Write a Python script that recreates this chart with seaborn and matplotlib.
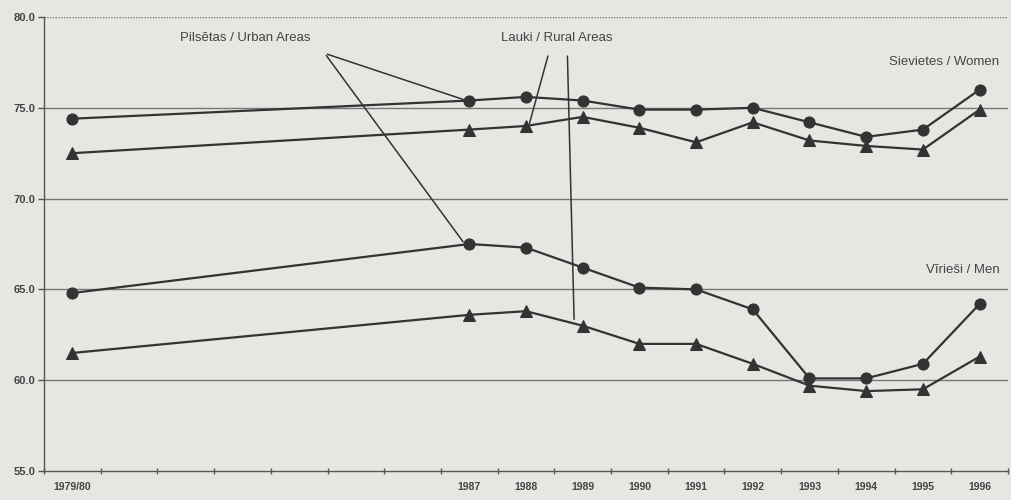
import numpy as np
import pandas as pd
import matplotlib
matplotlib.use('Agg')
import matplotlib.pyplot as plt
import seaborn as sns

sns.set_style('white')
plt.rcParams['font.family'] = ['Liberation Sans', 'DejaVu Sans']

# category axis: 1979/80, six empty slots, then 1987..1996
categories = ['1979/80', '', '', '', '', '', '', '1987', '1988', '1989', '1990',
              '1991', '1992', '1993', '1994', '1995', '1996']
years = ['1979/80', '1987', '1988', '1989', '1990', '1991', '1992', '1993', '1994', '1995', '1996']

women_urban = [74.4, 75.4, 75.6, 75.4, 74.9, 74.9, 75.0, 74.2, 73.4, 73.8, 76.0]
women_rural = [72.5, 73.8, 74.0, 74.5, 73.9, 73.1, 74.2, 73.2, 72.9, 72.7, 74.9]
men_urban = [64.8, 67.5, 67.3, 66.2, 65.1, 65.0, 63.9, 60.1, 60.1, 60.9, 64.2]
men_rural = [61.5, 63.6, 63.8, 63.0, 62.0, 62.0, 60.9, 59.7, 59.4, 59.5, 61.3]

series = {
    ('women', 'urban'): women_urban,
    ('women', 'rural'): women_rural,
    ('men', 'urban'): men_urban,
    ('men', 'rural'): men_rural,
}

rows = []
for (sex, area), vals in series.items():
    for y, v in zip(years, vals):
        rows.append({'sex': sex, 'area': area, 'year': y,
                     'pos': categories.index(y), 'value': v})
df = pd.DataFrame(rows)

bg = '#e6e6e3'
ink = '#333333'

fig = plt.figure(figsize=(10.11, 5.0), dpi=100, facecolor=bg)
ax = fig.add_axes([0.0435, 0.058, 0.9535, 0.908])
ax.set_facecolor(bg)

markers = {'urban': 'o', 'rural': '^'}
for (sex, area), g in df.groupby(['sex', 'area']):
    sns.lineplot(data=g, x='pos', y='value', ax=ax, color=ink, lw=1.6,
                 marker=markers[area], markersize=8 if area == 'urban' else 8.5,
                 markeredgecolor=ink, estimator=None, legend=False)

ax.set_xlim(-0.5, len(categories) - 0.5)
ax.set_ylim(55, 80)
ax.set_yticks([55, 60, 65, 70, 75, 80])
ax.set_yticklabels(['%.1f' % t for t in [55, 60, 65, 70, 75, 80]],
                   fontsize=8, fontweight='bold', color='#444444')
ax.set_xticks(range(len(categories)))
ax.set_xticklabels(categories, fontsize=7.5, fontweight='bold', color='#444444')
ax.set_xticks(np.arange(-0.5, len(categories), 1.0), minor=True)
ax.tick_params(axis='x', which='major', bottom=True, length=0, pad=8)
ax.tick_params(axis='x', which='minor', bottom=True, length=5, width=1,
               color='#555555', direction='inout')
ax.tick_params(axis='y', which='major', left=True, length=4, width=1,
               color='#555555', pad=2)
ax.set_xlabel('')
ax.set_ylabel('')

for t in [60, 65, 70, 75]:
    ax.axhline(t, color='#777777', lw=1.0, zorder=0)
ax.axhline(80, color='#777777', lw=1.0, ls=(0, (1, 1)), zorder=0)

for s in ['top', 'right']:
    ax.spines[s].set_visible(False)
for s in ['left', 'bottom']:
    ax.spines[s].set_color('#555555')
    ax.spines[s].set_linewidth(1.0)

# annotation pointers
p87 = categories.index('1987')
p88 = categories.index('1988')
p89 = categories.index('1989')
ax.text(3.05, 78.7, 'Pilsētas / Urban Areas', fontsize=9.5, color='#444444', ha='center')
ax.annotate('', xy=(p87 - 0.05, women_urban[1]), xytext=(4.45, 78.0),
            arrowprops=dict(arrowstyle='-', color=ink, lw=1.1))
ax.annotate('', xy=(p87 - 0.08, men_urban[1]), xytext=(4.45, 78.0),
            arrowprops=dict(arrowstyle='-', color=ink, lw=1.1))
ax.text(8.55, 78.7, 'Lauki / Rural Areas', fontsize=9.5, color='#444444', ha='center')
ax.annotate('', xy=(p88 + 0.05, women_rural[2]), xytext=(8.4, 78.0),
            arrowprops=dict(arrowstyle='-', color=ink, lw=1.1))
ax.annotate('', xy=(p89 - 0.15, men_rural[3] + 0.2), xytext=(8.73, 78.0),
            arrowprops=dict(arrowstyle='-', color=ink, lw=1.1))

ax.text(16.35, 77.35, 'Sievietes / Women', fontsize=9.5, color='#444444', ha='right')
ax.text(16.35, 65.9, 'Vīrieši / Men', fontsize=9.5, color='#444444', ha='right')

fig.savefig('out.png', dpi=100, facecolor=bg)
